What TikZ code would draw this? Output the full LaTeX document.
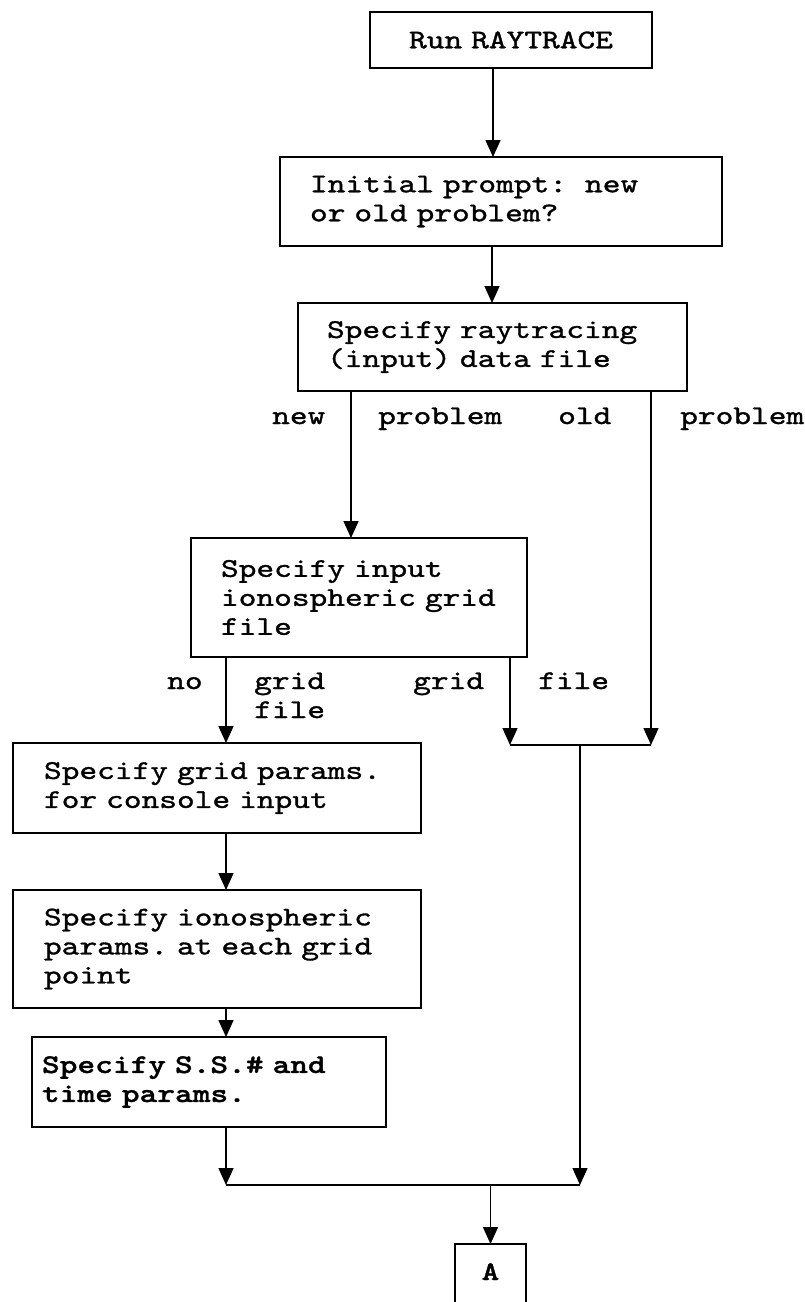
\documentclass[tikz,border=0pt]{standalone}
\usepackage{fontspec}
\usetikzlibrary{arrows.meta}
% Typewriter face, widened and darkened to the look of a line printer
\newfontfamily\flowtt[FakeStretch=1.25,FakeBold=1.2,BoldFont=lmmonolt10-bold.otf]{lmmono10-regular.otf}

\tikzset{
  flow/.style={font=\flowtt\fontsize{27pt}{29pt}\selectfont},
  box/.style={flow, draw, line width=2.6pt, outer sep=0pt, inner ysep=0pt, align=left},
  conn/.style={line width=1.5pt},
  arr/.style={conn, -{Triangle[width=15pt,length=17pt]}},
  tag/.style={flow, anchor=base west, inner sep=0pt}
}

\begin{document}
\begin{tikzpicture}[x=1pt,y=1pt]
\useasboundingbox (0,0) rectangle (805,-1302);

% process boxes
\node[box, align=center, minimum width=282pt, minimum height=56pt, text width=262pt]
  (run) at (511,-40) {Run~RAYTRACE};
\node[box, minimum width=442pt, minimum height=89pt, inner xsep=30pt, text width=382pt]
  (prompt) at (501,-201.5) {Initial~prompt:~~new\\or~old~problem?};
\node[box, minimum width=389pt, minimum height=88pt, inner xsep=29pt, text width=331pt]
  (datafile) at (492.5,-347) {Specify~raytracing\\(input)~data~file};
\node[box, minimum width=336pt, minimum height=119pt, inner xsep=30pt, text width=276pt]
  (gridfile) at (359,-597.5) {Specify~input\\ionospheric~grid\\file};
\node[box, minimum width=408pt, minimum height=90pt, inner xsep=31pt, text width=346pt]
  (console) at (217,-788) {Specify~grid~params.\\for~console~input};
\node[box, minimum width=408pt, minimum height=118pt, inner xsep=31pt, text width=346pt]
  (iono) at (217,-949) {Specify~ionospheric\\params.~at~each~grid\\point};
\node[box, minimum width=354pt, minimum height=90pt, inner xsep=10pt, text width=334pt]
  (ss) at (209,-1082) {\bfseries Specify~S.S.\#~and\\time~params.};
\node[box, align=center, anchor=north, minimum width=71pt, minimum height=80pt,
      text height=12pt, text depth=20pt, font=\flowtt\bfseries\fontsize{27pt}{29pt}\selectfont]
  (A) at (490.5,-1244) {A};

% branch labels
\node[tag] (lnew)   at (272,-424) {new};
\node[tag] (lprobA) at (378,-424) {problem};
\node[tag] (lold)   at (558,-424) {old};
\node[tag] (lprobB) at (680,-424) {problem};
\node[tag] (lno)    at (167,-689) {no};
\node[tag] (lgridA) at (254,-689) {grid};
\node[tag] (lfileA) at (254,-718) {file};
\node[tag] (lgridB) at (413,-689) {grid};
\node[tag] (lfileB) at (538,-689) {file};

% vertical guides for the connectors
\coordinate (xtop) at (493,0);
\coordinate (xmid) at (492,0);
\coordinate (xnew) at (351,0);
\coordinate (xold) at (651,0);
\coordinate (xno)  at (226,0);
\coordinate (xgrid) at (510,0);

% junctions
\coordinate (jAl) at (510,-745);
\coordinate (jAr) at (651,-745);
\coordinate (jAm) at (580,-745);
\coordinate (jBl) at (226,-1185);
\coordinate (jBr) at (580,-1185);
\coordinate (jBm) at (490.5,-1185);

% connectors
\draw[arr] (run.south -| xtop) -- (prompt.north -| xtop);
\draw[arr] (prompt.south -| xmid) -- (datafile.north -| xmid);
\draw[arr] (datafile.south -| xnew) -- (gridfile.north -| xnew);
\draw[arr] (datafile.south -| xold) -- (jAr);
\draw[arr] (gridfile.south -| xgrid) -- (jAl);
\draw[conn] (jAl) -- (jAr);
\draw[arr] (gridfile.south -| xno) -- (console.north -| xno);
\draw[arr] (console.south -| xno) -- (iono.north -| xno);
\draw[arr] (iono.south -| xno) -- (ss.north -| xno);
\draw[arr] (ss.south -| xno) -- (jBl);
\draw[arr] (jAm) -- (jBr);
\draw[conn] (jBl) -- (jBr);
\draw[arr] (jBm) -- (A.north);
\end{tikzpicture}
\end{document}
